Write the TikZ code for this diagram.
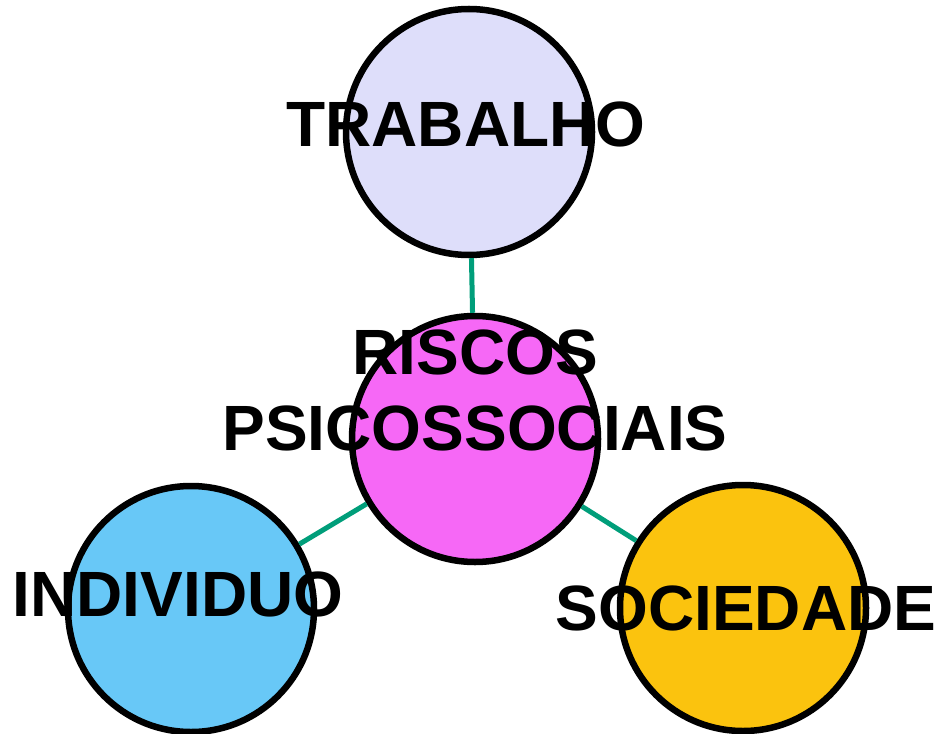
\documentclass[tikz,border=0pt]{standalone}
\usepackage{fontspec}
\setmainfont{Liberation Sans}
\usetikzlibrary{positioning}
\definecolor{lavanda}{RGB}{222,222,250}
\definecolor{rosa}{RGB}{246,104,246}
\definecolor{celeste}{RGB}{104,200,247}
\definecolor{ouro}{RGB}{251,195,14}
\definecolor{verde}{RGB}{0,158,122}
\tikzset{
  bola/.style={circle, draw=black, line width=6.5bp, minimum size=246bp, inner sep=0pt},
  rotulo/.style={font=\fontsize{64bp}{76bp}\selectfont\bfseries, inner sep=0pt, align=center},
  elo/.style={draw=verde, line width=5bp}
}
\begin{document}
\begin{tikzpicture}[x=1bp,y=-1bp]
\useasboundingbox (0,0) rectangle (940,734);
%Circulos
\node[bola, fill=lavanda]   (T)     at (469,132)    {};
\node[bola, fill=rosa]      (R)     at (475,439)    {};
\node[bola, fill=celeste]   (I)     at (191,609)    {};
\node[bola, fill=ouro]      (S)     at (743,608)    {};

%Linhas
\draw[elo]  (R) -- (T);
\draw[elo]  (R) -- (I);
\draw[elo]  (R) -- (S);

%Textos
\node[rotulo]   (tT)    at (466,124)    {TRABALHO};
\node[rotulo]   (tR)    at (475,390)    {RISCOS\\PSICOSSOCIAIS};
\node[rotulo]   (tI)    at (178,594)    {INDIVIDUO};
\node[rotulo]   (tS)    at (746,608)    {SOCIEDADE};
\end{tikzpicture}
\end{document}
